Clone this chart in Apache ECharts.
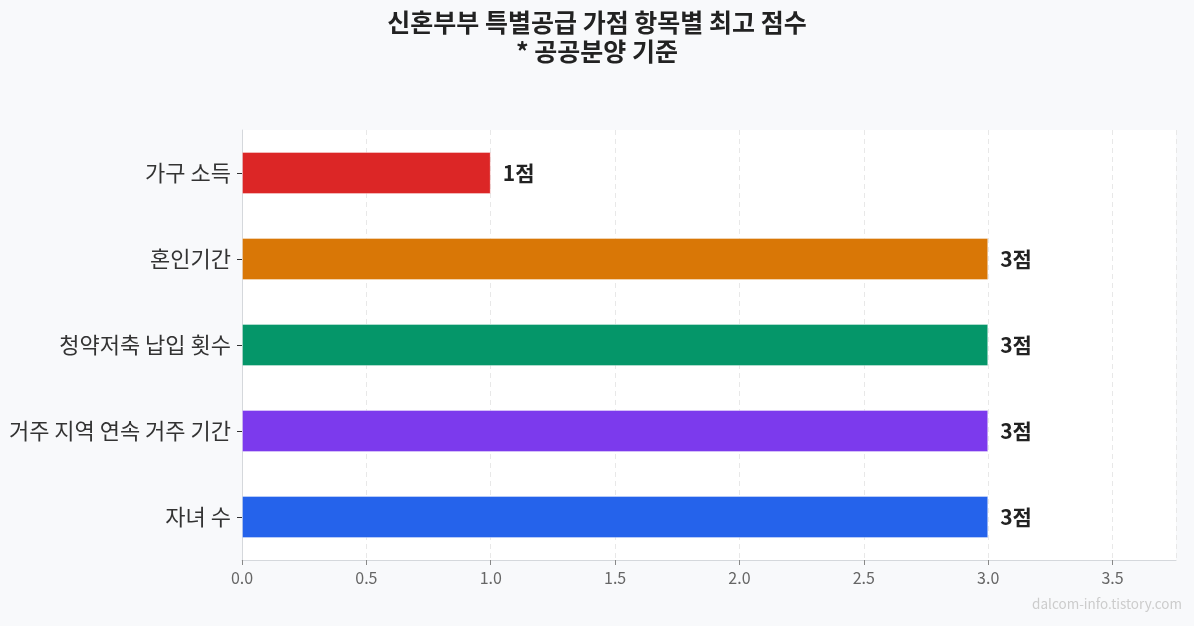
<!DOCTYPE html>
<html>
<head>
<meta charset="utf-8">
<script src="https://cdn.jsdelivr.net/npm/echarts@6/dist/echarts.min.js"></script>
<style>
  html, body { margin: 0; padding: 0; background: #f8f9fb; }
  #chart { width: 1194px; height: 626px; }
</style>
</head>
<body>
<div id="chart"></div>
<script>
// top to bottom
var categories = ['가구 소득', '혼인기간', '청약저축 납입 횟수', '거주 지역 연속 거주 기간', '자녀 수'];
var scores = [1, 3, 3, 3, 3];
var barColors = ['#dc2626', '#d97706', '#059669', '#7c3aed', '#2563eb'];
var titleText = '신혼부부 특별공급 가점 항목별 최고 점수\n* 공공분양 기준';

var font = "'Noto Sans CJK KR', 'Noto Sans', sans-serif";

var chart = echarts.init(document.getElementById('chart'));

var barData = [];
for (var i = 0; i < scores.length; i++) {
  barData.push({
    value: scores[i],
    itemStyle: { color: barColors[i], borderColor: 'rgba(255,255,255,0.35)', borderWidth: 1 }
  });
}

chart.setOption({
  backgroundColor: '#f8f9fb',
  textStyle: { fontFamily: font },
  title: {
    text: titleText,
    left: 'center',
    top: 3,
    textStyle: { fontSize: 25, fontWeight: 'bold', color: '#222', lineHeight: 29, fontFamily: font }
  },
  graphic: [{
    type: 'text',
    right: 12,
    top: 597,
    style: { text: 'dalcom-info.tistory.com', fill: '#cccccc', font: '13.5px ' + font }
  }],
  grid: {
    left: 242, right: 18, top: 130, bottom: 66,
    show: true, backgroundColor: '#ffffff', borderWidth: 0
  },
  xAxis: {
    type: 'value',
    min: 0,
    max: 3.755,
    interval: 0.5,
    axisLine: { show: true, lineStyle: { color: '#d5d8dc' } },
    axisTick: { show: true, length: 5, lineStyle: { color: '#888' } },
    axisLabel: {
      color: '#666', fontSize: 16, margin: 10, showMaxLabel: false,
      formatter: function (v) { return v.toFixed(1); }
    },
    splitLine: { show: true, lineStyle: { color: '#e8e8e8', type: [5, 4] } }
  },
  yAxis: {
    type: 'category',
    inverse: true,
    data: categories,
    axisLine: { show: true, lineStyle: { color: '#d5d8dc' } },
    axisTick: { show: true, length: 5, alignWithLabel: true, lineStyle: { color: '#333' } },
    axisLabel: { color: '#333', fontSize: 22, margin: 11 }
  },
  series: [{
    type: 'bar',
    data: barData,
    barWidth: 42,
    label: {
      show: true,
      position: 'right',
      distance: 12,
      formatter: '{c}점',
      color: '#222',
      fontSize: 21,
      fontWeight: 'bold'
    }
  }]
});
</script>
</body>
</html>
